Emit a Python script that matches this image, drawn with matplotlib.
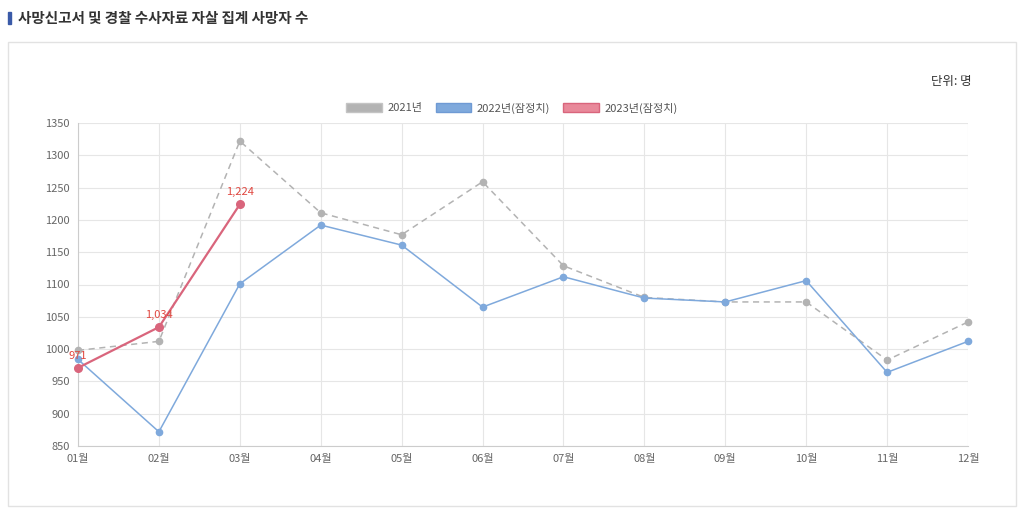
import matplotlib.pyplot as plt
from matplotlib.patches import Patch, Rectangle

plt.rcParams['font.family'] = ['Noto Sans CJK KR', 'DejaVu Sans']

months = ['01월', '02월', '03월', '04월', '05월', '06월',
          '07월', '08월', '09월', '10월', '11월', '12월']
y2021 = [998, 1012, 1322, 1211, 1177, 1259, 1129, 1080, 1073, 1073, 983, 1042]
y2022 = [984, 872, 1101, 1192, 1161, 1065, 1112, 1079, 1073, 1106, 964, 1012]
y2023 = [971, 1034, 1224]
yticks = [850, 900, 950, 1000, 1050, 1100, 1150, 1200, 1250, 1300, 1350]

c21 = '#b3b3b3'
c22 = '#7fa9dc'
c23 = '#d9657c'

fig = plt.figure(figsize=(10.24, 5.14), dpi=100)

# outer frame and title
fig.patches.append(Rectangle((8 / 1024, 8 / 514), 1008 / 1024, 464 / 514,
                             transform=fig.transFigure, fill=False,
                             edgecolor='#e2e2e2', linewidth=1))
fig.patches.append(Rectangle((8 / 1024, 1 - 24 / 514), 2.5 / 1024, 12 / 514,
                             transform=fig.transFigure, color='#3a5aa8'))
fig.text(18 / 1024, 1 - 18 / 514, '사망신고서 및 경찰 수사자료 자살 집계 사망자 수',
         fontsize=10.5, fontweight='bold', color='#333333', va='center')
fig.text(972 / 1024, 1 - 82 / 514, '단위: 명', fontsize=9, color='#333333',
         ha='right', va='center')

ax = fig.add_axes([78 / 1024, 68 / 514, 890 / 1024, 323 / 514])
x = list(range(len(months)))

ax.plot(x, y2021, color=c21, linestyle=(0, (4, 3)), linewidth=1.1,
        marker='o', markersize=4.5, clip_on=False, zorder=3)
ax.plot(x, y2022, color=c22, linewidth=1.1,
        marker='o', markersize=4.5, clip_on=False, zorder=4)
ax.plot(x[:len(y2023)], y2023, color=c23, linewidth=1.6,
        marker='o', markersize=5.5, clip_on=False, zorder=5)

for i, v in enumerate(y2023):
    ax.annotate(f'{v:,}', (i, v), xytext=(0, 5), textcoords='offset points',
                ha='center', va='bottom', fontsize=8, color='#e0463f', zorder=6)

ax.set_xlim(0, 11)
ax.set_ylim(850, 1350)
ax.set_yticks(yticks)
ax.set_xticks(x)
ax.set_xticklabels(months)
ax.tick_params(axis='both', labelsize=8, colors='#666666', length=0, pad=6)
ax.grid(True, color='#e6e6e6', linewidth=0.8)
ax.set_axisbelow(True)
for s in ['top', 'right']:
    ax.spines[s].set_visible(False)
for s in ['left', 'bottom']:
    ax.spines[s].set_color('#cccccc')

handles = [
    Patch(facecolor=c21, edgecolor='#c4c4c4', label='2021년'),
    Patch(facecolor=c22, edgecolor='#6f9ad4', label='2022년(잠정치)'),
    Patch(facecolor='#e8899a', edgecolor=c23, label='2023년(잠정치)'),
]
fig.legend(handles=handles, loc='center', bbox_to_anchor=(512 / 1024, 1 - 108 / 514),
           ncol=3, frameon=False, fontsize=8, handlelength=3.2, handleheight=0.9,
           columnspacing=1.2, handletextpad=0.5, labelcolor='#555555')

fig.savefig('out.png', dpi=100)
